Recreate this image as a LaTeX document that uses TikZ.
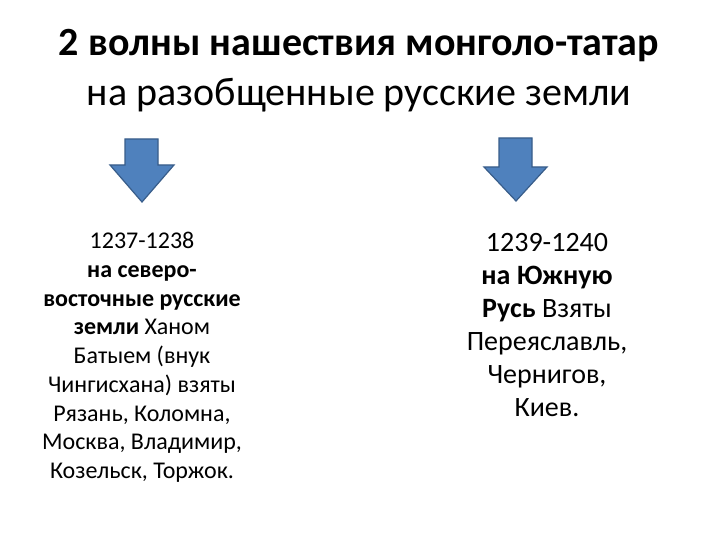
\documentclass[tikz,border=0pt]{standalone}
\usepackage{fontspec}
\setmainfont{Carlito}
\definecolor{arrowfill}{HTML}{4F81BD}
\definecolor{arrowline}{HTML}{385D8A}
\begin{document}
\begin{tikzpicture}[x=1pt,y=-1pt,
  downarrow/.style={fill=arrowfill,draw=arrowline,line width=1.2pt,line join=miter},
  titletext/.style={inner sep=0pt,anchor=north,align=center,font=\fontsize{40}{50}\selectfont},
  lefttext/.style={inner sep=0pt,anchor=north,align=center,font=\fontsize{24}{28.75}\selectfont},
  righttext/.style={inner sep=0pt,anchor=north,align=center,font=\fontsize{28}{33}\selectfont}]
\useasboundingbox[fill=white] (0,0) rectangle (720,540);
\node[titletext] (title) at (359,29) {\textbf{2 волны нашествия монголо-татар}\\на разобщенные русские земли};
% arrows
\draw[downarrow] (125,139) -- (158,139) -- (158,165) -- (174,165) -- (142,202) -- (110,165) -- (125,165) -- cycle;
\draw[downarrow] (499,138) -- (532,138) -- (532,167) -- (547,167) -- (516,201) -- (484,167) -- (499,167) -- cycle;
\node[lefttext] (left) at (142,232) {1237-1238\\\textbf{на северо-}\\\textbf{восточные русские}\\\textbf{земли} Ханом\\Батыем (внук\\Чингисхана) взяты\\Рязань, Коломна,\\Москва, Владимир,\\Козельск, Торжок.};
\node[righttext] (right) at (547,233) {1239-1240\\\textbf{на Южную}\\\textbf{Русь} Взяты\\Переяславль,\\Чернигов,\\Киев.};
\end{tikzpicture}
\end{document}
